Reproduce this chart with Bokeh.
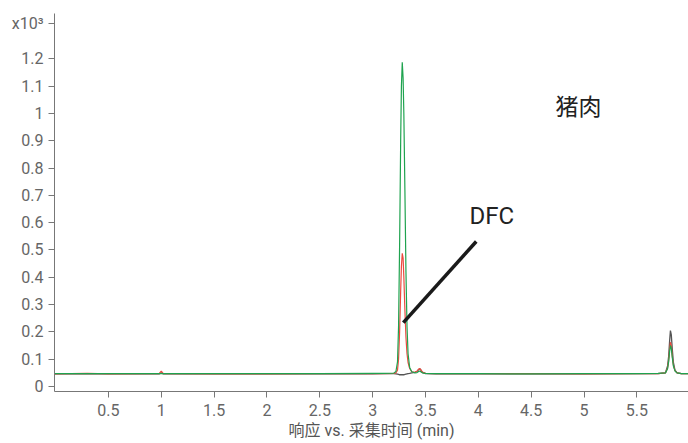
from bokeh.plotting import figure
from bokeh.models import Range1d, FixedTicker, CustomJSTickFormatter, Label
from bokeh.embed import file_html
from bokeh.resources import INLINE

# Acquisition time (min)
time_min = [-0.01, 0.3, 0.5, 0.98, 1.0, 1.02, 1.5, 2.0, 2.5, 3.0, 3.1, 3.2, 3.22, 3.235,
            3.245, 3.255, 3.265, 3.272, 3.28, 3.288, 3.295, 3.305, 3.315, 3.325, 3.335,
            3.35, 3.37, 3.40, 3.42, 3.435, 3.445, 3.455, 3.47, 3.50, 3.6, 4.0, 4.5, 5.0,
            5.5, 5.7, 5.77, 5.79, 5.80, 5.81, 5.817, 5.825, 5.835, 5.845, 5.86, 5.88,
            5.92, 5.99]

# Responses (x10^3)
gray_resp = [0.046, 0.046, 0.046, 0.046, 0.05, 0.046, 0.046, 0.046, 0.046, 0.046, 0.047,
             0.047, 0.046, 0.045, 0.044, 0.043, 0.043, 0.043, 0.043, 0.043, 0.043, 0.044,
             0.045, 0.046, 0.047, 0.048, 0.05, 0.052, 0.056, 0.062, 0.065, 0.061, 0.052,
             0.047, 0.046, 0.046, 0.046, 0.046, 0.047, 0.047, 0.05, 0.075, 0.11, 0.17,
             0.205, 0.19, 0.135, 0.088, 0.06, 0.05, 0.047, 0.047]
red_resp = [0.046, 0.048, 0.046, 0.047, 0.056, 0.047, 0.046, 0.046, 0.047, 0.047, 0.047,
            0.048, 0.05, 0.06, 0.10, 0.20, 0.35, 0.44, 0.488, 0.47, 0.40, 0.28, 0.18,
            0.12, 0.088, 0.066, 0.054, 0.052, 0.056, 0.063, 0.066, 0.062, 0.053, 0.048,
            0.047, 0.047, 0.047, 0.046, 0.047, 0.047, 0.05, 0.068, 0.095, 0.14, 0.162,
            0.15, 0.11, 0.078, 0.058, 0.05, 0.047, 0.047]
green_resp = [0.047, 0.047, 0.047, 0.047, 0.047, 0.047, 0.047, 0.047, 0.047, 0.048, 0.048,
              0.049, 0.055, 0.09, 0.22, 0.52, 0.90, 1.10, 1.187, 1.13, 1.0, 0.72, 0.42,
              0.22, 0.12, 0.07, 0.054, 0.05, 0.051, 0.055, 0.057, 0.054, 0.05, 0.048,
              0.047, 0.047, 0.046, 0.047, 0.047, 0.048, 0.05, 0.065, 0.09, 0.13, 0.15,
              0.14, 0.105, 0.075, 0.057, 0.05, 0.047, 0.047]

x_ticks = [0.5, 1, 1.5, 2, 2.5, 3, 3.5, 4, 4.5, 5, 5.5]
y_ticks = [0, 0.1, 0.2, 0.3, 0.4, 0.5, 0.6, 0.7, 0.8, 0.9, 1.0, 1.1, 1.2]
y_scale_label = "x10³"
y_scale_label_pos = 1.329

# Annotation: pointer line from peak to label
pointer_x = [3.29, 3.98]
pointer_y = [0.234, 0.531]

FONT = "Roboto, 'Noto Sans CJK SC', sans-serif"

p = figure(width=688, height=443, output_backend="svg", toolbar_location=None,
           x_range=Range1d(-0.01, 5.988), y_range=Range1d(-0.0183, 1.366),
           min_border_left=54, min_border_right=0, min_border_top=13, min_border_bottom=52)
p.outline_line_color = None
p.xgrid.visible = False
p.ygrid.visible = False
p.background_fill_color = "white"

p.line(time_min, gray_resp, line_color="#555555", line_width=1.3)
p.line(time_min, red_resp, line_color="#ec4a3f", line_width=1.2)
p.line(time_min, green_resp, line_color="#1fa34f", line_width=1.2)

p.line(pointer_x, pointer_y, line_color="#1a1a1a", line_width=3.5)

fmt = CustomJSTickFormatter(
    args=dict(lab=y_scale_label, pos=y_scale_label_pos),
    code="if (Math.abs(tick - pos) < 1e-6) { return lab; } "
         "return tick.toFixed(1).replace(/\\.0$/, '');")
for ax in (p.xaxis[0], p.yaxis[0]):
    ax.formatter = fmt
    ax.axis_line_color = "#777777"
    ax.major_tick_line_color = "#777777"
    ax.major_tick_in = 0
    ax.major_tick_out = 6
    ax.minor_tick_line_color = None
    ax.major_label_text_font = FONT
    ax.major_label_text_font_size = "16px"
    ax.major_label_text_color = "#666666"
p.xaxis[0].ticker = FixedTicker(ticks=x_ticks)
p.yaxis[0].ticker = FixedTicker(ticks=y_ticks + [y_scale_label_pos])
p.xaxis[0].major_label_standoff = 6
p.yaxis[0].major_label_standoff = 5
p.xaxis[0].axis_label = "响应 vs. 采集时间 (min)"
p.xaxis[0].axis_label_text_font = FONT
p.xaxis[0].axis_label_text_font_size = "16px"
p.xaxis[0].axis_label_text_font_style = "normal"
p.xaxis[0].axis_label_text_color = "#555555"
p.xaxis[0].axis_label_standoff = 2

p.add_layout(Label(x=4.73, y=1.022, text="猪肉", text_font=FONT, text_font_size="23px",
                   text_color="#222222", text_baseline="alphabetic"))
p.add_layout(Label(x=3.915, y=0.625, text="DFC", text_font=FONT, text_font_size="24px",
                   text_color="#222222", text_baseline="alphabetic"))

open("out.html", "w").write(file_html(p, INLINE))
